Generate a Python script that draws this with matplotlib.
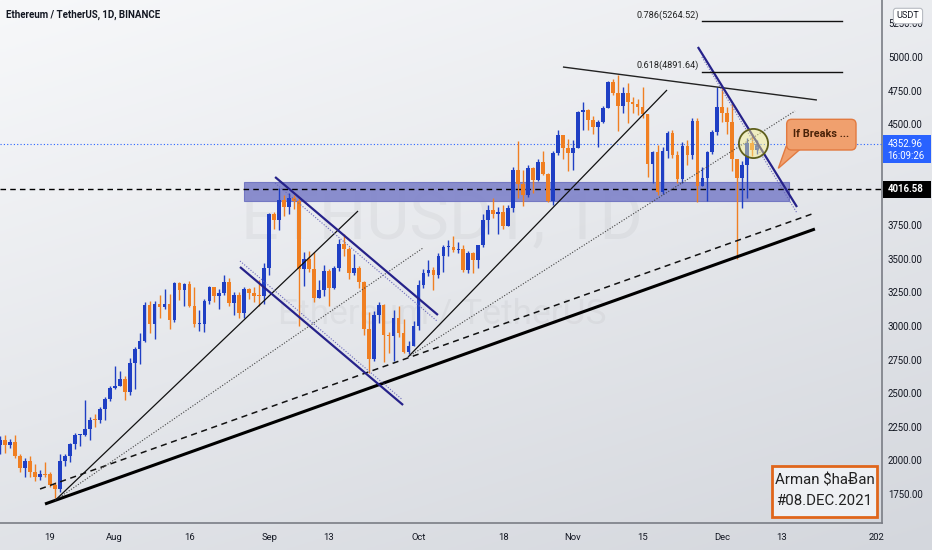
import numpy as np
import pandas as pd
import matplotlib
matplotlib.use("Agg")
import matplotlib.pyplot as plt
from matplotlib.patches import Rectangle, FancyBboxPatch, Polygon
import matplotlib.transforms as mtrans

# ---------------- data ----------------
start_date = "2021-07-09"
opens = [2115, 2150, 2115, 2140, 2035, 1940, 1995, 1915, 1875, 1895,
         1895, 1820, 1785, 1995, 2030, 2125, 2188, 2190, 2230, 2300,
         2298, 2380, 2460, 2535, 2555, 2606, 2506, 2725, 2827, 2890,
         3157, 3012, 3163, 3141, 3164, 3045, 3322, 3267, 3310, 3147,
         3011, 3017, 3182, 3287, 3226, 3243, 3324, 3172, 3228, 3094,
         3274, 3244, 3225, 3225, 3433, 3834, 3789, 3940, 3887, 3952,
         3926, 3427, 3497, 3427, 3211, 3270, 3410, 3285, 3429, 3612,
         3571, 3397, 3432, 3330, 2977, 2756, 3078, 3155, 2930, 2925,
         3062, 2947, 2807, 2852, 3001, 3307, 3390, 3418, 3380, 3518,
         3584, 3588, 3561, 3575, 3415, 3545, 3492, 3605, 3786, 3865,
         3829, 3847, 3746, 3878, 4156, 4056, 3972, 4171, 4085, 4219,
         4133, 3926, 4288, 4418, 4325, 4288, 4323, 4590, 4604, 4533,
         4478, 4518, 4622, 4812, 4730, 4639, 4730, 4667, 4648, 4625,
         4573, 4205, 4290, 3998, 4301, 4435, 4272, 4092, 4335, 4274,
         4524, 4044, 4097, 4294, 4445, 4631, 4587, 4519, 4241, 4100,
         4197, 4357, 4310]
closes = [2150, 2115, 2140, 2035, 1940, 1995, 1915, 1875, 1895, 1890,
          1820, 1785, 1995, 2030, 2125, 2188, 2190, 2230, 2300, 2298,
          2380, 2460, 2535, 2555, 2606, 2506, 2725, 2827, 2890, 3157,
          3012, 3163, 3141, 3164, 3045, 3322, 3267, 3310, 3147, 3011,
          3017, 3182, 3287, 3226, 3243, 3324, 3172, 3228, 3094, 3274,
          3244, 3225, 3220, 3433, 3834, 3789, 3940, 3887, 3952, 3926,
          3427, 3497, 3427, 3211, 3270, 3410, 3285, 3429, 3612, 3571,
          3397, 3432, 3330, 2977, 2756, 3078, 3155, 2930, 2925, 3062,
          2947, 2807, 2852, 3001, 3307, 3390, 3418, 3380, 3518, 3584,
          3588, 3561, 3575, 3415, 3545, 3492, 3605, 3786, 3865, 3829,
          3847, 3746, 3878, 4156, 4056, 3972, 4171, 4085, 4219, 4133,
          3926, 4288, 4418, 4325, 4288, 4323, 4590, 4604, 4533, 4478,
          4518, 4622, 4812, 4730, 4639, 4730, 4667, 4648, 4625, 4573,
          4205, 4290, 3998, 4301, 4435, 4272, 4092, 4335, 4274, 4524,
          4044, 4097, 4294, 4445, 4631, 4587, 4519, 4241, 4100, 4197,
          4357, 4310, 4352.96]
highs = [2185, 2190, 2160, 2190, 2045, 2015, 2030, 1975, 1925, 1990,
         1915, 1840, 2045, 2045, 2130, 2200, 2195, 2450, 2320, 2345,
         2400, 2470, 2550, 2700, 2665, 2630, 2760, 2840, 2950, 3175,
         3185, 3185, 3230, 3275, 3235, 3330, 3330, 3320, 3335, 3290,
         3120, 3200, 3300, 3290, 3275, 3375, 3360, 3250, 3250, 3290,
         3285, 3290, 3340, 3470, 3840, 3845, 4025, 3975, 3985, 3970,
         3950, 3550, 3560, 3550, 3340, 3455, 3425, 3445, 3650, 3680,
         3590, 3535, 3445, 3335, 3100, 3110, 3175, 3165, 2955, 3120,
         3145, 3050, 2890, 3040, 3340, 3420, 3490, 3440, 3545, 3600,
         3640, 3670, 3625, 3605, 3560, 3550, 3605, 3835, 3900, 3950,
         3885, 3900, 3900, 4185, 4375, 4160, 4200, 4180, 4240, 4300,
         4140, 4300, 4460, 4420, 4390, 4380, 4600, 4665, 4610, 4560,
         4535, 4635, 4825, 4840, 4868, 4780, 4810, 4700, 4690, 4775,
         4575, 4300, 4345, 4330, 4450, 4460, 4300, 4370, 4380, 4550,
         4550, 4180, 4300, 4460, 4780, 4780, 4630, 4650, 4245, 4230,
         4400, 4430, 4380]
lows = [2050, 2055, 2090, 2015, 1910, 1880, 1880, 1850, 1855, 1875,
        1800, 1718, 1765, 1955, 1990, 2085, 2110, 2180, 2150, 2250,
        2275, 2300, 2440, 2530, 2550, 2450, 2485, 2530, 2720, 2880,
        2945, 2900, 3060, 3125, 2980, 3030, 3190, 3150, 3140, 2995,
        2960, 2955, 3160, 3180, 3125, 3230, 3150, 3080, 3060, 3060,
        3200, 3180, 3150, 3160, 3380, 3720, 3710, 3820, 3830, 3870,
        3000, 3300, 3400, 3180, 3210, 3220, 3150, 3275, 3410, 3520,
        3350, 3375, 3285, 2930, 2650, 2740, 3020, 2730, 2800, 2740,
        2920, 2800, 2790, 2850, 2970, 3280, 3370, 3270, 3355, 3400,
        3520, 3550, 3545, 3400, 3395, 3390, 3430, 3590, 3680, 3800,
        3680, 3720, 3740, 3845, 3950, 3890, 3960, 3990, 4080, 4120,
        3920, 3900, 4270, 4240, 4155, 4160, 4320, 4460, 4460, 4430,
        4330, 4510, 4620, 4715, 4450, 4580, 4510, 4580, 4570, 4550,
        4110, 4060, 3975, 3980, 4250, 4250, 4060, 4060, 4200, 4245,
        3920, 4040, 3930, 4280, 4420, 4520, 4430, 4150, 3500, 3880,
        3950, 4260, 4280]

x_tick_dates = ["2021-07-19", "2021-08-01", "2021-08-16", "2021-09-01", "2021-09-13",
                "2021-10-01", "2021-10-18", "2021-11-01", "2021-11-15", "2021-12-01",
                "2021-12-13", "2022-01-01"]
x_tick_labels = ["19", "Aug", "16", "Sep", "13", "Oct", "18", "Nov", "15", "Dec", "13", "202"]
y_ticks = [1750, 2000, 2250, 2500, 2750, 3000, 3250, 3500, 3750, 4000, 4250, 4500, 4750, 5000, 5250]
y_tick_hidden = [4000, 4250]   # covered by price labels
last_price = 4352.96
last_time = "16:09:26"
level_price = 4016.58
fib_levels = [0.786, 0.618]
fib_prices = [5264.52, 4891.64]

# drawing anchors: (days from 19 Jul 2021, price)
thick_trend = [(-1.0, 1675.6), (153.6, 3720.8)]
dashed_trend = [(-2.0, 1787.2), (153.0, 3832.4)]
dotted_a = [(1.0, 1701.6), (74.9, 3579.5)]
solid_a = [(1.0, 1701.6), (61.85, 3854.7)]
dotted_b = [(71.9, 2768.9), (149.6, 4598.4)]
solid_b = [(71.9, 2768.9), (123.9, 4754.6)]
top_line = [(103.0, 4925.6), (154.0, 4680.2)]
chan_upper = [(45.2, 4107.5), (77.9, 3081.2)]
chan_upper_dot = [(45.2, 4062.9), (77.7, 3036.6)]
chan_lower = [(38.15, 3438.2), (70.9, 2411.9)]
chan_lower_dot = [(38.15, 3482.8), (70.6, 2456.5)]
steep_line = [(130.1, 5074.4), (150.0, 3884.4)]
steep_dot = [(130.9, 5000.0), (150.0, 3839.8)]
zone = (38.9, 148.4, 3931.3, 4072.6)
fib_x = (130.9, 159.0)

# ---------------- fonts ----------------
FAM = ["Roboto", "DejaVu Sans"]

# ---------------- figure ----------------
W, H = 932, 550
fig = plt.figure(figsize=(W / 100, H / 100), dpi=100)

# background gradient
bg = fig.add_axes([0, 0, 1, 1], zorder=-10)
yy, xx = np.mgrid[0:1:200j, 0:1:300j]
t = np.clip(0.65 * yy + 0.35 * xx, 0, 1)
c0 = np.array([247, 248, 250]) / 255
c1 = np.array([212, 215, 221]) / 255
img = c0[None, None, :] * (1 - t[..., None]) + c1[None, None, :] * t[..., None]
bg.imshow(img, extent=[0, 1, 0, 1], aspect="auto", origin="upper")
bg.axis("off")

ax = fig.add_axes([0, 27 / H, 882 / W, 523 / H])
ax.set_facecolor("none")

dates = pd.date_range(start_date, periods=len(opens), freq="D")
base = pd.Timestamp("2021-07-19")
xs = np.array([(d - base).days for d in dates], dtype=float)
o = np.array(opens, float)
c = np.array(closes, float)
h = np.array(highs, float)
l = np.array(lows, float)
up = c >= o
UP = "#1f3fc4"
DN = "#f07f22"
cols = np.where(up, UP, DN)

ax.vlines(xs, l, h, colors=cols, lw=1.0, zorder=4)
body_lo = np.minimum(o, c)
body_h = np.maximum(np.abs(c - o), 8)
ax.bar(xs, body_h, bottom=body_lo, width=0.74, color=cols, zorder=5, linewidth=0)

ax.set_xlim(-10.04, 167.07)
ax.set_ylim(1534.3, 5423.9)

# zone
ax.add_patch(Rectangle((zone[0], zone[2]), zone[1] - zone[0], zone[3] - zone[2],
                       facecolor="#7f83ca", edgecolor="#6d71c0", lw=0.8, alpha=0.9, zorder=2))

# watermark
ax.text(78.7, 3780, "ETHUSDT, 1D", fontsize=48, family=FAM, color=(0, 0, 0, 0.035),
        ha="center", va="center", zorder=1)
ax.text(78.7, 3089, "Ethereum / TetherUS", fontsize=25.5, family=FAM, color=(0, 0, 0, 0.035),
        ha="center", va="center", zorder=1)

def seg(p, **kw):
    ax.plot([p[0][0], p[1][0]], [p[0][1], p[1][1]], solid_capstyle="butt", **kw)

seg(thick_trend, color="#000000", lw=2.2, zorder=6)
seg(dashed_trend, color="#111111", lw=1.1, ls=(0, (4, 3)), zorder=6)
seg(dotted_a, color="#444444", lw=0.8, ls=(0, (1, 1.5)), zorder=6)
seg(solid_a, color="#111111", lw=0.9, zorder=6)
seg(dotted_b, color="#444444", lw=0.8, ls=(0, (1, 1.5)), zorder=6)
seg(solid_b, color="#111111", lw=0.9, zorder=6)
seg(top_line, color="#222222", lw=1.0, zorder=6)
NAVY = "#26228a"
seg(chan_upper, color=NAVY, lw=1.6, zorder=6)
seg(chan_lower, color=NAVY, lw=1.6, zorder=6)
seg(steep_line, color=NAVY, lw=1.6, zorder=6)
seg(chan_upper_dot, color="#6a68bb", lw=0.8, ls=(0, (1, 1.5)), zorder=6)
seg(chan_lower_dot, color="#6a68bb", lw=0.8, ls=(0, (1, 1.5)), zorder=6)
seg(steep_dot, color="#6a68bb", lw=0.8, ls=(0, (1, 1.5)), zorder=6)

# horizontal levels
ax.axhline(last_price, color="#2962ff", lw=0.8, ls=(0, (1, 2)), zorder=3)
ax.axhline(level_price, color="#000000", lw=1.0, ls=(0, (4, 3)), zorder=3)

# fib levels
for lv, pr in zip(fib_levels, fib_prices):
    ax.plot(list(fib_x), [pr, pr], color="#111111", lw=1.0, zorder=6)
    ax.text(fib_x[0] - 0.6, pr + 48, f"{lv}({pr:.2f})", fontsize=6.6, family=FAM,
            color="#222222", ha="right", va="center", zorder=6)

# circle
ax.plot([141.1], [4358], marker="o", ms=21, mfc=(0.98, 0.95, 0.55, 0.45),
        mec="#5f5f1c", mew=1.3, zorder=7)

# callout
ax.add_patch(Polygon([(147.8, 4333), (146.25, 4172), (150.6, 4313)], closed=True,
                     facecolor="#f0a06e", edgecolor="#e27a40", lw=1.0, zorder=7))
ax.add_patch(FancyBboxPatch((147.93, 4308.3), 161.85 - 147.93, 4536.7 - 4308.3,
                            boxstyle="round,pad=0,rounding_size=1.0", mutation_aspect=37.04,
                            facecolor="#f0a06e", edgecolor="#e27a40", lw=1.0, zorder=8))
ax.text(154.9, 4427, "If Breaks ...", fontsize=7.8, family=FAM, weight="bold",
        color="#4a2208", ha="center", va="center", zorder=9)

# signature box
ax.add_patch(Rectangle((145.0, 1579), 166.0 - 145.0, 1958 - 1579, facecolor="#eef0f3",
                       edgecolor="#e0661b", lw=2.0, zorder=8))
ax.text(155.5, 1850, "Arman $ha\u0243an", fontsize=10.8, family=FAM, color="#222222",
        ha="center", va="center", zorder=9)
ax.text(155.5, 1695, "#08.DEC.2021", fontsize=10.8, family=FAM, color="#222222",
        ha="center", va="center", zorder=9)

# axes styling
for s in ["top", "left"]:
    ax.spines[s].set_visible(False)
ax.spines["right"].set_color("#7a7d85")
ax.spines["bottom"].set_color("#7a7d85")
ax.spines["right"].set_linewidth(1.2)
ax.spines["bottom"].set_linewidth(1.2)

ax.set_xticks([(pd.Timestamp(d) - base).days for d in x_tick_dates])
ax.set_xticklabels(x_tick_labels, fontsize=6.8, family=FAM, color="#131722")
ax.yaxis.tick_right()
ax.set_yticks(y_ticks)
ax.set_yticklabels(["" if v in y_tick_hidden else f"{v:.2f}" for v in y_ticks],
                   fontsize=6.9, family=FAM, color="#131722")
ax.tick_params(axis="both", length=0)
ax.tick_params(axis="y", pad=4.3)
ax.tick_params(axis="x", pad=7.5)

# price labels on the scale
bt = mtrans.blended_transform_factory(ax.transAxes, ax.transData)
ax.add_patch(Rectangle((1.001, 4211.7), 48 / 882, 4420 - 4211.7, transform=bt,
                       facecolor="#2962ff", edgecolor="none", clip_on=False, zorder=10))
ax.text(1.0065, last_price, f"{last_price:.2f}", transform=bt, fontsize=6.9, family=FAM,
        color="white", ha="left", va="center", clip_on=False, zorder=11)
ax.text(1.0065, last_price - 88, last_time, transform=bt, fontsize=6.9, family=FAM,
        color="white", ha="left", va="center", clip_on=False, zorder=11)
ax.add_patch(Rectangle((1.001, 3951.4), 48 / 882, 4077.8 - 3951.4, transform=bt,
                       facecolor="#000000", edgecolor="none", clip_on=False, zorder=10))
ax.text(1.0065, level_price, f"{level_price:.2f}", transform=bt, fontsize=6.9, family=FAM,
        color="white", ha="left", va="center", clip_on=False, zorder=11, weight="bold")

# title and currency badge
fig.text(6 / W, 1 - 15 / H, "Ethereum / TetherUS, 1D, BINANCE", fontsize=7.0, family=FAM,
         weight="bold", color="#131722", ha="left", va="center")
fig.text(908 / W, 1 - 16 / H, "USDT", fontsize=6.6, family=FAM, color="#131722",
         ha="center", va="center",
         bbox=dict(boxstyle="round,pad=0.35,rounding_size=0.3", fc="white", ec="#b8bbc2", lw=0.8))

fig.savefig("out.png", dpi=100)
